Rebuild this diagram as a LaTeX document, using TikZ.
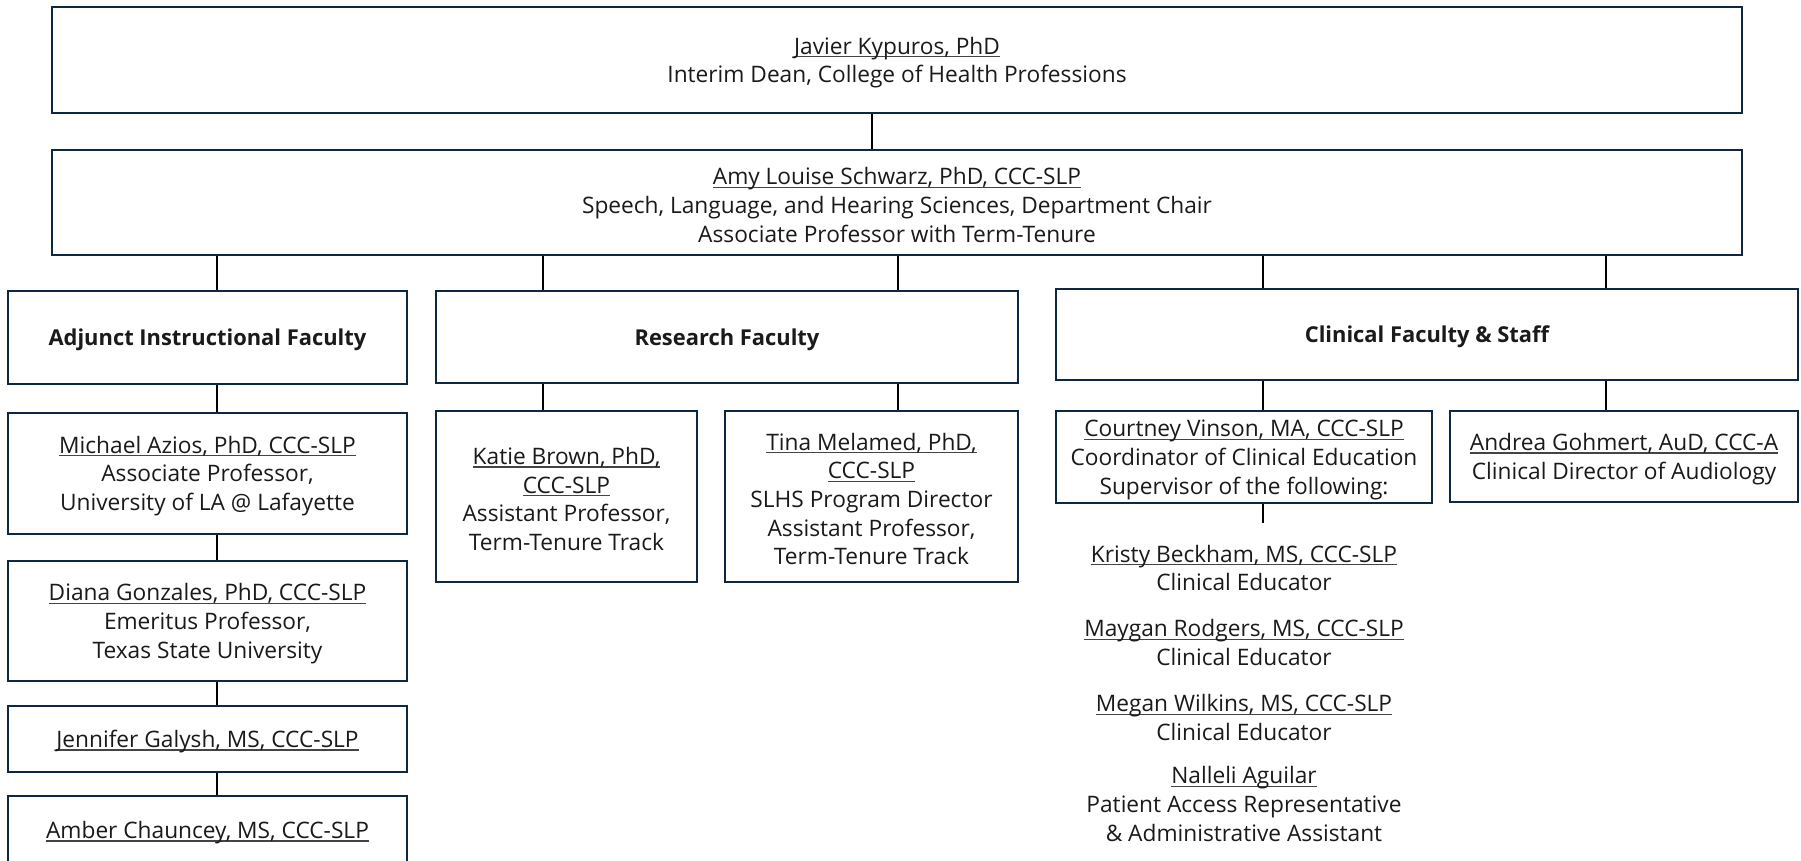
\documentclass[tikz,border=0pt]{standalone}
\usepackage{fontspec}
\setmainfont{Open Sans}
\definecolor{boxc}{HTML}{0E2841}
\definecolor{txt}{HTML}{1A1A1A}
\definecolor{ulc}{HTML}{444444}
\newcommand\mfs{\fontsize{22.7}{28.7}\selectfont}
\newcommand\hfs{\fontsize{21.9}{28.7}\selectfont\bfseries}
\newcommand\ul[1]{\leavevmode\setbox0\hbox{#1}\rlap{\textcolor{ulc}{\rule[-3.2pt]{\wd0}{1.3pt}}}\box0}
\newcommand\tp{\rule{0pt}{22.2pt}}
\begin{document}
\begin{tikzpicture}[x=1pt,y=-1pt,
  box/.style={draw=boxc, line width=2.7pt, fill=white, align=center, inner sep=0pt, text=txt, font=\mfs},
  head/.style={box, font=\hfs},
  conn/.style={draw=black, line width=2pt},
  lbl/.style={align=center, inner sep=0pt, text=txt, font=\mfs}]
\useasboundingbox (0,0) rectangle (1801,861);
\clip (0,0) rectangle (1801,861);
% coordinates for connector x positions
\coordinate (xd) at (872,0);
\coordinate (xa) at (217,0);
\coordinate (xr1) at (543,0);
\coordinate (xr2) at (898,0);
\coordinate (xc1) at (1263,0);
\coordinate (xc2) at (1606,0);
% boxes
\node[box, minimum width=1690, minimum height=106] (dean) at (897,60)
  {\tp\ul{Javier Kypuros, PhD}\\Interim Dean, College of Health Professions};
\node[box, minimum width=1690, minimum height=105] (chair) at (897,202.5)
  {\tp\ul{Amy Louise Schwarz, PhD, CCC-SLP}\\Speech, Language, and Hearing Sciences, Department Chair\\Associate Professor with Term-Tenure};
\node[head, minimum width=399, minimum height=93] (adj) at (207.5,337.5) {\tp Adjunct Instructional Faculty};
\node[head, minimum width=582, minimum height=92] (res) at (727,337) {\tp Research Faculty};
\node[head, minimum width=742, minimum height=91] (cli) at (1427,334.5) {\tp Clinical Faculty \& Staff};
\node[box, minimum width=399, minimum height=121] (mich) at (207.5,473.5)
  {\tp\ul{Michael Azios, PhD, CCC-SLP}\\Associate Professor,\\University of LA @ Lafayette};
\node[box, minimum width=399, minimum height=120] (dian) at (207.5,621)
  {\tp\ul{Diana Gonzales, PhD, CCC-SLP}\\Emeritus Professor,\\Texas State University};
\node[box, minimum width=399, minimum height=66] (jen) at (207.5,739) {\tp\ul{Jennifer Galysh, MS, CCC-SLP}};
\node[box, minimum width=399, minimum height=68] (amb) at (207.5,830) {\tp\ul{Amber Chauncey, MS, CCC-SLP}};
\node[box, minimum width=261, minimum height=171] (katie) at (566.5,496.5)
  {\tp\ul{Katie Brown, PhD,}\\\ul{CCC-SLP}\\Assistant Professor,\\Term-Tenure Track};
\node[box, minimum width=293, minimum height=171] (tina) at (871.5,496.5)
  {\tp\ul{Tina Melamed, PhD,}\\\ul{CCC-SLP}\\SLHS Program Director\\Assistant Professor,\\Term-Tenure Track};
\node[box, minimum width=376, minimum height=92] (court) at (1244,457)
  {\tp\ul{Courtney Vinson, MA, CCC-SLP}\\Coordinator of Clinical Education\\Supervisor of the following:};
\node[box, minimum width=348, minimum height=91] (andr) at (1624,456.5)
  {\tp\ul{Andrea Gohmert, AuD, CCC-A}\\Clinical Director of Audiology};
% list under Courtney
\node[lbl] (kr) at (1244,568) {\ul{Kristy Beckham, MS, CCC-SLP}\\Clinical Educator};
\node[lbl] (ma) at (1244,642.5) {\ul{Maygan Rodgers, MS, CCC-SLP}\\Clinical Educator};
\node[lbl] (me) at (1244,717.5) {\ul{Megan Wilkins, MS, CCC-SLP}\\Clinical Educator};
\node[lbl] (na) at (1244,804) {\ul{Nalleli Aguilar}\\Patient Access Representative\\\& Administrative Assistant};
\coordinate (stub) at (1263,523);
% connectors
\draw[conn] (dean.south -| xd) -- (chair.north -| xd);
\draw[conn] (chair.south -| xa) -- (adj.north -| xa);
\draw[conn] (chair.south -| xr1) -- (res.north -| xr1);
\draw[conn] (chair.south -| xr2) -- (res.north -| xr2);
\draw[conn] (chair.south -| xc1) -- (cli.north -| xc1);
\draw[conn] (chair.south -| xc2) -- (cli.north -| xc2);
\draw[conn] (adj.south -| xa) -- (mich.north -| xa);
\draw[conn] (mich.south -| xa) -- (dian.north -| xa);
\draw[conn] (dian.south -| xa) -- (jen.north -| xa);
\draw[conn] (jen.south -| xa) -- (amb.north -| xa);
\draw[conn] (res.south -| xr1) -- (katie.north -| xr1);
\draw[conn] (res.south -| xr2) -- (tina.north -| xr2);
\draw[conn] (cli.south -| xc1) -- (court.north -| xc1);
\draw[conn] (cli.south -| xc2) -- (andr.north -| xc2);
\draw[conn] (court.south -| xc1) -- (stub);
\end{tikzpicture}
\end{document}
